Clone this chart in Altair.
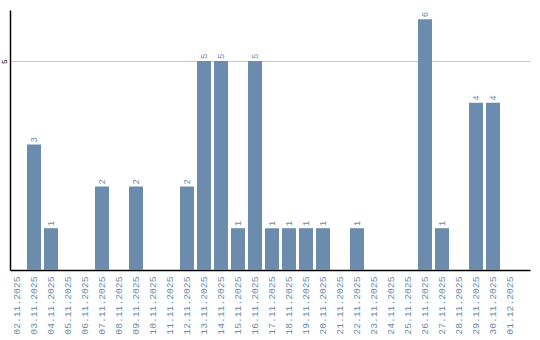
import altair as alt
import pandas as pd

dates = ["02.11.2025", "03.11.2025", "04.11.2025", "05.11.2025", "06.11.2025",
         "07.11.2025", "08.11.2025", "09.11.2025", "10.11.2025", "11.11.2025",
         "12.11.2025", "13.11.2025", "14.11.2025", "15.11.2025", "16.11.2025",
         "17.11.2025", "18.11.2025", "19.11.2025", "20.11.2025", "21.11.2025",
         "22.11.2025", "23.11.2025", "24.11.2025", "25.11.2025", "26.11.2025",
         "27.11.2025", "28.11.2025", "29.11.2025", "30.11.2025", "01.12.2025"]
counts = [0, 3, 1, 0, 0, 2, 0, 2, 0, 0,
          2, 5, 5, 1, 5, 1, 1, 1, 1, 0,
          1, 0, 0, 0, 6, 1, 0, 4, 4, 0]

df = pd.DataFrame({"date": dates, "count": counts})
COLOR = "#6b8cad"
FONT = "Liberation Mono"

xscale = alt.Scale(paddingInner=0.1765, paddingOuter=0.382, align=0)
x = alt.X("date:N", sort=dates, title=None, scale=xscale,
          axis=alt.Axis(labelAngle=-90, labelAlign="right", labelBaseline="middle",
                        labelColor=COLOR, labelFont=FONT, labelFontSize=9.7,
                        labelPadding=6, ticks=False, domainColor="#000000",
                        domainWidth=1.5, labelOverlap=False))
y = alt.Y("count:Q", title=None,
          scale=alt.Scale(domain=[0, 6.22], nice=False),
          axis=alt.Axis(values=[5], labelAngle=-90, labelAlign="center",
                        labelBaseline="bottom", labelFont=FONT, labelFontSize=8,
                        labelColor="#000000", labelPadding=2, ticks=False,
                        domainColor="#000000", domainWidth=1.5,
                        gridColor="#c8c8c8", gridWidth=1))

bars = alt.Chart(df).mark_bar(color=COLOR).encode(x=x, y=y)
labels = alt.Chart(df).transform_filter("datum.count > 0").mark_text(
    angle=270, align="left", baseline="middle", dx=2, color=COLOR,
    font=FONT, fontSize=9
).encode(x=alt.X("date:N", sort=dates), y="count:Q", text="count:Q")

chart = (bars + labels).properties(
    width=520, height=260,
    background="#ffffff",
    autosize=alt.AutoSizeParams(type="none"),
    padding={"left": 10, "top": 10, "right": 10, "bottom": 70},
).configure_view(stroke=None, strokeWidth=0)

chart.save("out.html", embed_options={"renderer": "svg", "actions": False})
